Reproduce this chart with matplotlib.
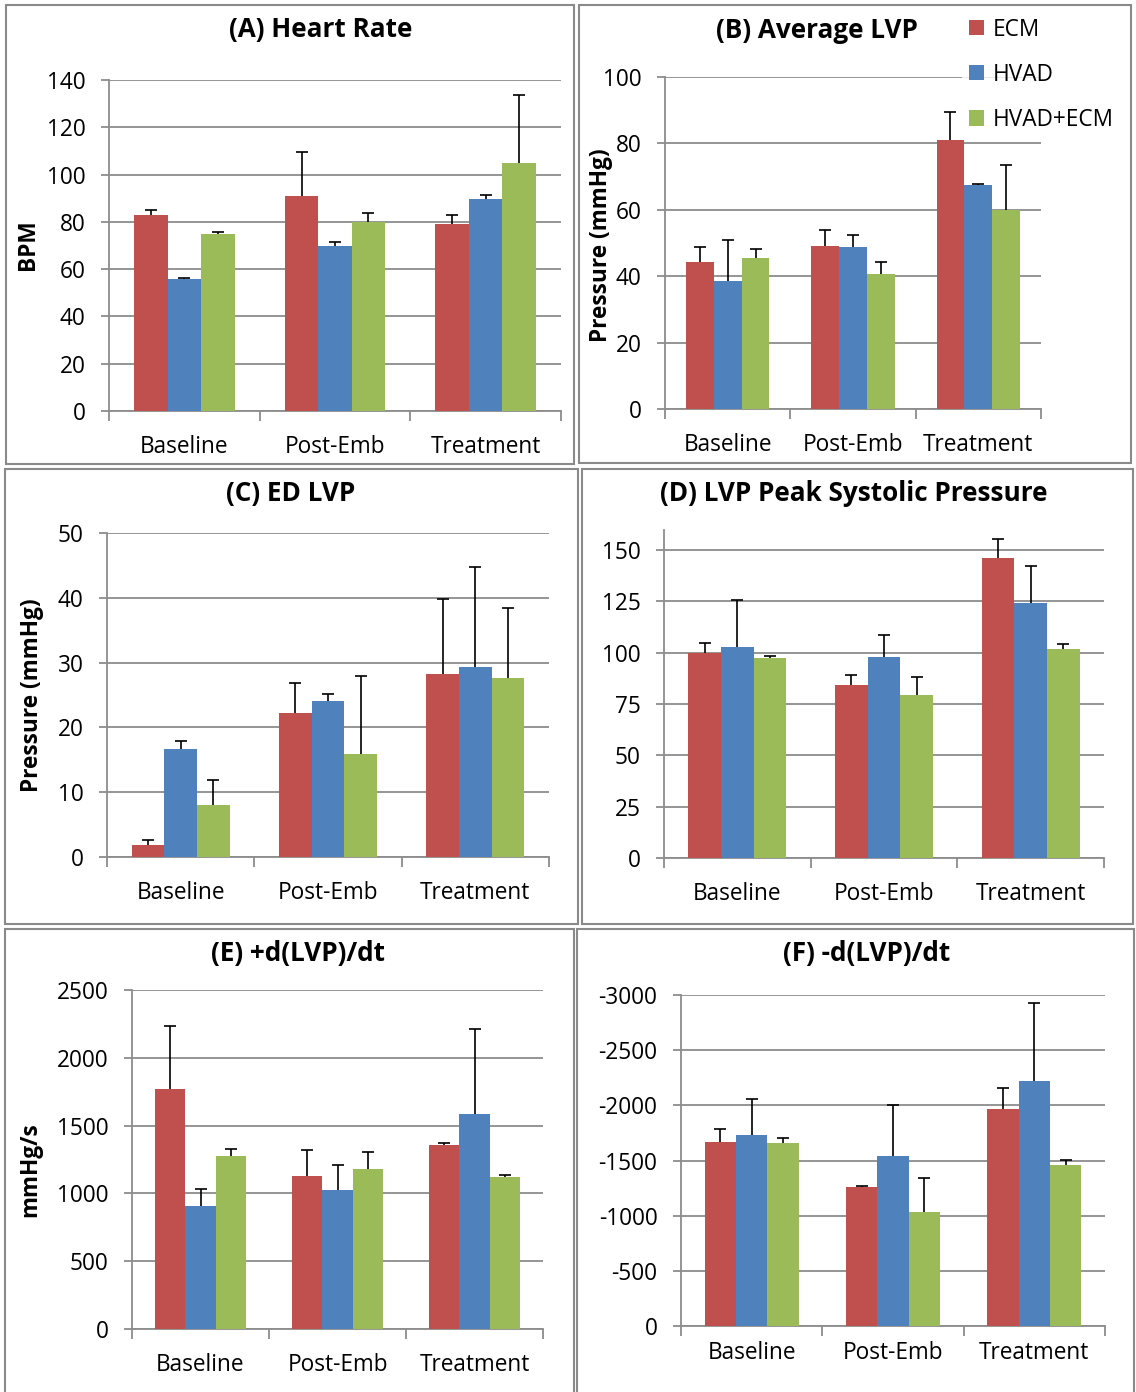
import matplotlib
matplotlib.use("Agg")
import matplotlib.pyplot as plt
from matplotlib.patches import Rectangle
from matplotlib.ticker import FuncFormatter
import numpy as np

plt.rcParams['font.family'] = ['Open Sans', 'DejaVu Sans']
plt.rcParams['axes.unicode_minus'] = False

W, H, DPI = 1136, 1392, 100

categories = ["Baseline", "Post-Emb", "Treatment"]
series_names = ["ECM", "HVAD", "HVAD+ECM"]
colors = ["#C0504D", "#4F81BD", "#9BBB59"]

# (A) heart rate, BPM: rows are ECM, HVAD, HVAD+ECM
hr_mean = [[83.0, 91.0, 79.2], [55.7, 69.8, 89.5], [75.0, 80.0, 105.0]]
hr_err = [[2.2, 18.5, 3.7], [0.5, 1.5, 1.7], [0.7, 3.7, 28.7]]

# (B) average LVP, mmHg
avg_mean = [[44.4, 49.0, 81.0], [38.7, 48.7, 67.5], [45.4, 40.8, 59.9]]
avg_err = [[4.3, 4.8, 8.4], [12.3, 3.6, 0.3], [2.9, 3.6, 13.6]]

# (C) end-diastolic LVP, mmHg
ed_mean = [[1.9, 22.2, 28.3], [16.6, 24.0, 29.3], [8.0, 15.9, 27.6]]
ed_err = [[0.7, 4.6, 11.5], [1.3, 1.2, 15.5], [3.9, 12.1, 10.8]]

# (D) peak systolic pressure, mmHg
psp_mean = [[100.0, 84.5, 146.3], [103.0, 97.8, 124.0], [97.2, 79.4, 101.9]]
psp_err = [[4.8, 4.4, 9.1], [22.6, 10.6, 18.2], [1.0, 8.7, 2.3]]

# (E) +dP/dt, mmHg/s
dpmax_mean = [[1768, 1132, 1358], [906, 1022, 1586], [1277, 1181, 1120]]
dpmax_err = [[467, 187, 17], [130, 184, 627], [52, 123, 17]]

# (F) -dP/dt, mmHg/s
dpmin_mean = [[-1666, -1258, -1969], [-1733, -1545, -2220], [-1657, -1034, -1460]]
dpmin_err = [[121, 12, 187], [320, 460, 707], [49, 306, 43]]

GRID = "#8c8c8c"
BORDER = "#8a8a8a"
TICK_FS = 16.3
TITLE_FS = 18.8
YLAB_FS = 16.3

fig = plt.figure(figsize=(W / DPI, H / DPI), dpi=DPI)
fig.patch.set_facecolor("white")


def px_axes(x0, y_top, x1, y_bot):
    return fig.add_axes([x0 / W, 1 - y_bot / H, (x1 - x0) / W, (y_bot - y_top) / H])


def fig_text(x, y, s, **kw):
    fig.text(x / W, 1 - y / H, s, **kw)


def border(x0, y0, x1, y1):
    fig.patches.append(Rectangle((x0 / W, 1 - y1 / H), (x1 - x0) / W, (y1 - y0) / H,
                                 transform=fig.transFigure, fill=False,
                                 edgecolor=BORDER, linewidth=1.5, zorder=0))


def draw_panel(ax, means, errs, ylim, yticks, xpad, inverted=False):
    centers = np.arange(len(categories)) + 0.5
    width = 1 / 4.5
    bars = []
    for i in range(3):
        xs = centers + (i - 1) * width
        b = ax.bar(xs, means[i], width, color=colors[i], linewidth=0, zorder=3,
                   label=series_names[i])
        bars.append(b)
        zeros = np.zeros(len(categories))
        e = np.asarray(errs[i], dtype=float)
        yerr = [e, zeros] if inverted else [zeros, e]
        cont = ax.errorbar(xs, means[i], yerr=yerr, fmt="none", ecolor="black",
                           elinewidth=1.2, capsize=4.5, capthick=1.2, zorder=4)
        # one-sided bars: keep only the cap at the far end
        lo_cap, hi_cap = cont[1]
        (hi_cap if inverted else lo_cap).set_visible(False)
    ax.set_xlim(0, 3)
    ax.set_ylim(*ylim)
    ax.set_yticks(yticks)
    ax.yaxis.set_major_formatter(FuncFormatter(lambda v, p: f"{int(round(v))}"))
    ax.yaxis.grid(True, color=GRID, linewidth=1.3)
    ax.set_axisbelow(True)
    for s in ("top", "right"):
        ax.spines[s].set_visible(False)
    for s in ("left", "bottom"):
        ax.spines[s].set_color(GRID)
        ax.spines[s].set_linewidth(1.3)
    ax.set_xticks([0, 1, 2, 3])
    ax.set_xticklabels([])
    ax.set_xticks(centers, minor=True)
    ax.set_xticklabels(categories, minor=True)
    ax.tick_params(axis="x", which="major", length=7, width=1.3, color=GRID)
    ax.tick_params(axis="x", which="minor", length=0, pad=xpad, labelsize=TICK_FS)
    ax.tick_params(axis="y", length=6, width=1.3, color=GRID, pad=11, labelsize=TICK_FS)
    return bars


# panel frames
border(6, 5, 574, 464)
border(579, 5, 1131, 463)
border(5, 469, 578, 924)
border(582, 469, 1133, 924)
border(5, 929, 574, 1400)
border(577, 929, 1134, 1400)

# (A)
axA = px_axes(109, 80, 561, 411)
draw_panel(axA, hr_mean, hr_err, (0, 140), np.arange(0, 141, 20), 17)
fig_text(321, 30, "(A) Heart Rate", ha="center", va="center", fontsize=TITLE_FS, fontweight="bold")
fig_text(28, 245, "BPM", ha="center", va="center", rotation=90, fontsize=YLAB_FS, fontweight="bold")

# (B)
axB = px_axes(665, 77, 1041, 409)
barsB = draw_panel(axB, avg_mean, avg_err, (0, 100), np.arange(0, 101, 20), 17)
fig_text(817, 30, "(B) Average LVP", ha="center", va="center", fontsize=TITLE_FS, fontweight="bold")
fig_text(601, 245, "Pressure (mmHg)", ha="center", va="center", rotation=90, fontsize=YLAB_FS, fontweight="bold")
leg = fig.legend(handles=barsB, labels=series_names, loc="upper left",
                 bbox_to_anchor=(962 / W, 1 - 11 / H), frameon=True, fontsize=TICK_FS,
                 handlelength=0.65, handleheight=0.65, handletextpad=0.4,
                 labelspacing=0.93, borderpad=0.3, borderaxespad=0)
leg.get_frame().set_facecolor("white")
leg.get_frame().set_edgecolor("none")
leg.get_frame().set_boxstyle("square", pad=0)

# (C)
axC = px_axes(107, 533, 549, 857)
draw_panel(axC, ed_mean, ed_err, (0, 50), np.arange(0, 51, 10), 17)
fig_text(291, 494, "(C) ED LVP", ha="center", va="center", fontsize=TITLE_FS, fontweight="bold")
fig_text(32, 695, "Pressure (mmHg)", ha="center", va="center", rotation=90, fontsize=YLAB_FS, fontweight="bold")

# (D)
axD = px_axes(664, 529.5, 1104, 858)
draw_panel(axD, psp_mean, psp_err, (0, 160), np.arange(0, 151, 25), 17)
fig_text(854, 494, "(D) LVP Peak Systolic Pressure", ha="center", va="center", fontsize=TITLE_FS, fontweight="bold")

# (E)
axE = px_axes(132, 990, 543, 1329)
draw_panel(axE, dpmax_mean, dpmax_err, (0, 2500), np.arange(0, 2501, 500), 17)
fig_text(298, 954, "(E) +d(LVP)/dt", ha="center", va="center", fontsize=TITLE_FS, fontweight="bold")
fig_text(30, 1170, "mmHg/s", ha="center", va="center", rotation=90, fontsize=YLAB_FS, fontweight="bold")

# (F) negative rates, axis runs upward toward -3000
axF = px_axes(681, 995, 1105, 1326)
draw_panel(axF, dpmin_mean, dpmin_err, (0, -3000), np.arange(0, -3001, -500), 11, inverted=True)
fig_text(867, 954, "(F) -d(LVP)/dt", ha="center", va="center", fontsize=TITLE_FS, fontweight="bold")

fig.savefig("out.png", dpi=DPI, facecolor="white")
